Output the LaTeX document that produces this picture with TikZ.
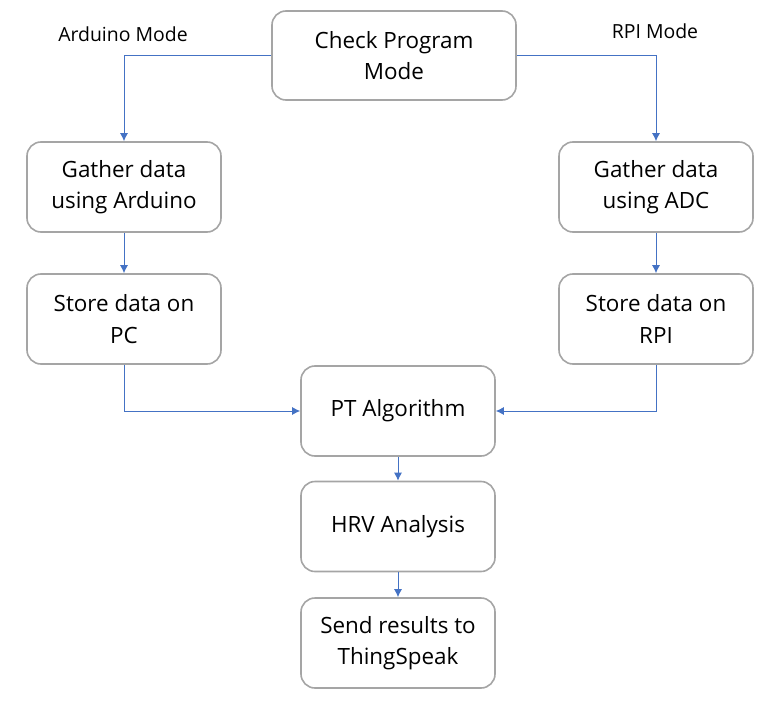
\documentclass[tikz,border=0pt]{standalone}
\usepackage{fontspec}
\setmainfont{Open Sans}
\usetikzlibrary{arrows.meta}
\definecolor{flowblue}{HTML}{4472C4}
\definecolor{boxgray}{HTML}{A5A5A5}
\tikzset{
  stepbox/.style={draw=boxgray, line width=1.6bp, rounded corners=14bp, fill=white,
    minimum width=194bp, minimum height=90bp, align=center, inner sep=0pt,
    font=\fontsize{22.5}{31.5}\selectfont},
  flow/.style={draw=flowblue, line width=1bp, -{Latex[length=8bp,width=8bp]}},
  modelabel/.style={font=\fontsize{19.5}{22}\selectfont, inner sep=0pt},
}

\begin{document}
\begin{tikzpicture}[x=1bp,y=-1bp]
\useasboundingbox (0,0) rectangle (784,705);
%%
\node (node_check) at (394,55.5) [stepbox,minimum width=244bp,minimum height=89bp] {Check Program\\Mode};
  \node (node_gather_ard) at (124,187) [stepbox] {Gather data\\using Arduino};
  \node (node_store_pc) at (124,319) [stepbox] {Store data on\\PC};
  \node (node_gather_adc) at (656,187) [stepbox] {Gather data\\using ADC};
  \node (node_store_rpi) at (656,319) [stepbox] {Store data on\\RPI};
  \node (node_pt) at (398,411) [stepbox] {PT Algorithm};
  \node (node_hrv) at (398,526.5) [stepbox] {HRV Analysis};
  \node (node_send) at (398,643) [stepbox] {Send results to\\ThingSpeak};
  \node (label_ard) at (123,34) [modelabel] {Arduino Mode};
  \node (label_rpi) at (655,31) [modelabel] {RPI Mode};
  \draw [flow] (node_check.west) -| (node_gather_ard);
  \draw [flow] (node_check.east) -| (node_gather_adc);
  \draw [flow] (node_gather_ard) -- (node_store_pc);
  \draw [flow] (node_gather_adc) -- (node_store_rpi);
  \draw [flow] (node_store_pc) |- (node_pt);
  \draw [flow] (node_store_rpi) |- (node_pt);
  \draw [flow] (node_pt) -- (node_hrv);
  \draw [flow] (node_hrv) -- (node_send);
%
\end{tikzpicture}
\end{document}
